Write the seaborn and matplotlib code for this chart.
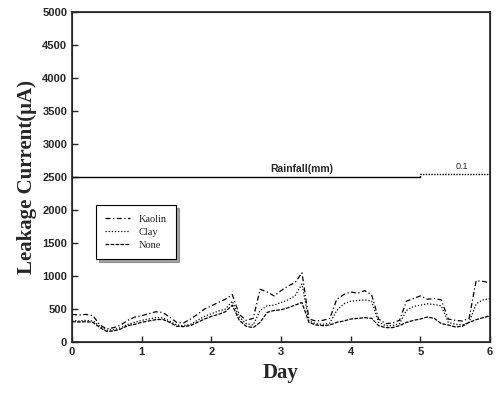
import numpy as np
import pandas as pd
import seaborn as sns
import matplotlib.pyplot as plt

sns.set_style("ticks")

# Data
day = [round(0.1 * i, 1) for i in range(61)]

none = [310, 305, 310, 300, 220, 160, 170, 200, 250, 270,
        300, 320, 340, 345, 300, 240, 235, 250, 300, 350,
        390, 420, 460, 560, 330, 240, 220, 300, 450, 480,
        490, 520, 560, 600, 300, 260, 250, 260, 300, 320,
        350, 360, 370, 360, 250, 220, 220, 250, 300, 330,
        350, 380, 360, 280, 260, 230, 240, 300, 340, 370, 400]

clay = [330, 320, 330, 320, 240, 180, 190, 220, 270, 300,
        330, 350, 370, 370, 320, 260, 250, 270, 330, 390,
        430, 470, 500, 620, 380, 280, 260, 480, 550, 560,
        600, 640, 700, 880, 320, 280, 270, 290, 480, 580,
        620, 630, 640, 620, 300, 250, 250, 280, 480, 540,
        560, 580, 570, 550, 300, 270, 260, 300, 580, 640, 660]

kaolin = [420, 410, 420, 400, 260, 200, 220, 260, 330, 380,
          400, 430, 460, 450, 380, 300, 290, 350, 420, 500,
          550, 600, 650, 720, 420, 330, 360, 800, 760, 700,
          780, 850, 900, 1050, 350, 320, 330, 360, 650, 720,
          760, 740, 780, 720, 350, 280, 290, 330, 620, 660,
          700, 650, 660, 640, 350, 330, 320, 360, 930, 920, 900]

rain_day = [0, 5]
rain_mm = [0, 0]
rain_day2 = [5, 5, 6]
rain_mm2 = [0, 0.1, 0.1]

df = pd.DataFrame({"Day": day, "Kaolin": kaolin, "Clay": clay, "None": none})
long = df.melt(id_vars="Day", var_name="Sample", value_name="Current")

fig = plt.figure(figsize=(4.97, 3.96), dpi=100)
ax = fig.add_axes([0.145, 0.136, 0.841, 0.834])

styles = {"Kaolin": (0, (4, 2, 1, 2)), "Clay": (0, (1, 1.5)), "None": (0, (3, 1))}
for name in ["Kaolin", "Clay", "None"]:
    sns.lineplot(data=long[long.Sample == name], x="Day", y="Current",
                 color="black", lw=0.9, linestyle=styles[name],
                 estimator=None, label=name, ax=ax)

ax.set_xlim(0, 6)
ax.set_ylim(0, 5000)
ax.set_xticks(range(7))
ax.set_yticks(range(0, 5001, 500))
ax.tick_params(direction="in", length=4, width=1, labelsize=8)
for lab in ax.get_xticklabels() + ax.get_yticklabels():
    lab.set_fontweight("bold")
    lab.set_family("Liberation Sans")
for s in ax.spines.values():
    s.set_linewidth(1.2)

ax.set_xlabel("Day", fontsize=15, fontweight="bold", family="Liberation Serif")
ax.set_ylabel("Leakage Current(μA)", fontsize=15, fontweight="bold",
              family="Liberation Serif")

# rainfall on a twin axis, zero level drawn at 2500
ax2 = ax.twinx()
ax2.set_ylim(-5, 5)
sns.lineplot(x=rain_day, y=rain_mm, color="black", lw=1.0,
             estimator=None, sort=False, ax=ax2)
sns.lineplot(x=rain_day2, y=rain_mm2, color="black", lw=1.0,
             linestyle=(0, (1, 1)), estimator=None, sort=False, ax=ax2)
ax2.set_yticks([])
ax2.set_ylabel("")
ax2.text(3.3, 0.1, "Rainfall(mm)", ha="center", va="bottom", fontsize=7.5,
         fontweight="bold", family="Liberation Sans")
ax2.text(5.6, 0.18, "0.1", ha="center", va="bottom", fontsize=6.5,
         family="Liberation Sans")

leg = ax.legend(loc="upper left", bbox_to_anchor=(0.045, 0.43), frameon=True,
                fancybox=False, shadow=True,
                prop={"family": "Liberation Serif", "size": 7.5},
                handlelength=2.4, borderpad=0.9, labelspacing=0.35)
leg.get_frame().set_edgecolor("black")
leg.get_frame().set_linewidth(0.8)

plt.savefig("out.png", dpi=100)
